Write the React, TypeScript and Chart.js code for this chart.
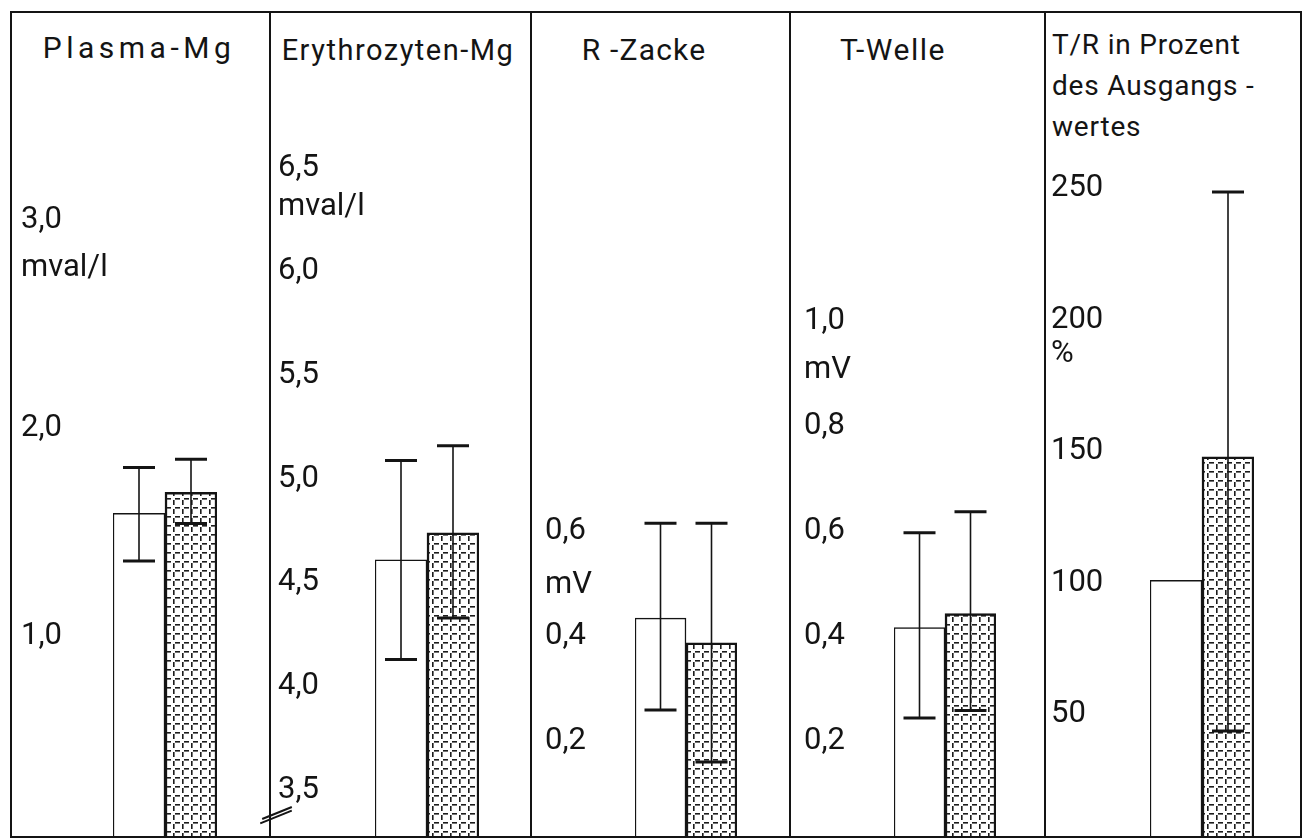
import React, { useEffect, useRef } from 'react';
import { Chart, registerables } from 'chart.js';

Chart.register(...registerables);

// ---------- data ----------
const panelTitles: string[][] = [
  ['Plasma-Mg'],
  ['Erythrozyten-Mg'],
  ['R -Zacke'],
  ['T-Welle'],
  ['T/R in Prozent', 'des Ausgangs -', 'wertes'],
];
const seriesNames = ['Ausgangswert', 'Nach Behandlung'];

const whiteValues = [1.59, 4.61, 0.434, 0.416, 101];
const whiteLow: (number | null)[] = [1.36, 4.13, 0.259, 0.244, null];
const whiteHigh: (number | null)[] = [1.81, 5.09, 0.615, 0.597, null];

const dottedValues = [1.69, 4.74, 0.387, 0.443, 148];
const dottedLow: (number | null)[] = [1.54, 4.33, 0.16, 0.258, 43.7];
const dottedHigh: (number | null)[] = [1.85, 5.16, 0.615, 0.637, 248.7];

const tickValues: number[][] = [
  [1, 2, 3],
  [3.5, 4, 4.5, 5, 5.5, 6, 6.5],
  [0.2, 0.4, 0.6],
  [0.2, 0.4, 0.6, 0.8, 1.0],
  [50, 100, 150, 200, 250],
];
const tickLabels: string[][] = [
  ['1,0', '2,0', '3,0'],
  ['3,5', '4,0', '4,5', '5,0', '5,5', '6,0', '6,5'],
  ['0,2', '0,4', '0,6'],
  ['0,2', '0,4', '0,6', '0,8', '1,0'],
  ['50', '100', '150', '200', '250'],
];
const unitLabels = ['mval/l', 'mval/l', 'mV', 'mV', '%'];
const unitValues = [2.77, 6.31, 0.497, 0.907, 187];

const axisMin = [0.038, 3.278, 0.019, 0.019, 3.8];
const axisMax = [4.0, 7.253, 1.589, 1.589, 317.1];

// ---------- layout ----------
const FRAME_TOP = 12;
const FRAME_BOTTOM = 836;
const FRAME_RIGHT = 1300;
const panelLeft = [10, 269, 530, 789, 1044];
const barLeft = [113, 375, 635, 894, 1150];
const barWidth = [52, 52, 51, 51, 52];
const labelInset = [10, 8, 14, 14, 6];
const titleCenter = [139, 398, 644, 893, 0];
const titleSpacing = [4.5, 1.5, 1.2, 1.5, 0.8];
const titleFont = [30, 29, 30, 30, 28];
const titleTop = [33, 35, 35, 35, 24];
const INK = '#141414';

function makePattern(): CanvasPattern | string {
  const c = document.createElement('canvas');
  c.width = 9;
  c.height = 9;
  const g = c.getContext('2d');
  if (!g) return '#888';
  g.fillStyle = '#ffffff';
  g.fillRect(0, 0, 9, 9);
  g.fillStyle = '#1c1c1c';
  g.fillRect(2, 0, 5, 1.6);
  g.fillRect(0, 2, 1.6, 5);
  return g.createPattern(c, 'repeat') || '#888';
}

const errorBarPlugin = {
  id: 'errorBars',
  afterDatasetsDraw(chart: any) {
    const { ctx } = chart;
    const yScale = chart.scales.y;
    chart.data.datasets.forEach((ds: any, d: number) => {
      const meta = chart.getDatasetMeta(d);
      meta.data.forEach((el: any, j: number) => {
        const lo = ds.errLow[j];
        const hi = ds.errHigh[j];
        if (lo == null || hi == null) return;
        const yTop = yScale.getPixelForValue(hi);
        const yBot = yScale.getPixelForValue(lo);
        const x = el.x;
        ctx.save();
        ctx.strokeStyle = INK;
        ctx.lineWidth = 1.6;
        ctx.beginPath();
        ctx.moveTo(x, yTop);
        ctx.lineTo(x, yBot);
        ctx.stroke();
        ctx.lineWidth = 3;
        ctx.beginPath();
        ctx.moveTo(x - 16, yTop);
        ctx.lineTo(x + 16, yTop);
        ctx.moveTo(x - 16, yBot);
        ctx.lineTo(x + 16, yBot);
        ctx.stroke();
        ctx.restore();
      });
    });
  },
};

function Panel({ i }: { i: number }) {
  const ref = useRef<HTMLCanvasElement | null>(null);
  const left = panelLeft[i] + 1;
  const right = i < panelLeft.length - 1 ? panelLeft[i + 1] : FRAME_RIGHT;
  const width = right - left;
  const height = FRAME_BOTTOM - FRAME_TOP;
  const axisWidth = barLeft[i] - left - labelInset[i];
  const rightPad = width - (barLeft[i] - left) - 2 * barWidth[i];

  useEffect(() => {
    if (!ref.current) return;
    const pattern = makePattern();
    const ticksAll = [...tickValues[i], unitValues[i]];
    const labelsAll = [...tickLabels[i], unitLabels[i]];
    const chart = new Chart(ref.current, {
      type: 'bar',
      data: {
        labels: [panelTitles[i].join(' ')],
        datasets: [
          {
            label: seriesNames[0],
            data: [whiteValues[i]],
            backgroundColor: '#ffffff',
            borderColor: INK,
            borderWidth: { top: 1.5, left: 1.5, right: 1.5, bottom: 0 },
            borderSkipped: 'start',
            errLow: [whiteLow[i]],
            errHigh: [whiteHigh[i]],
          } as any,
          {
            label: seriesNames[1],
            data: [dottedValues[i]],
            backgroundColor: pattern as any,
            borderColor: INK,
            borderWidth: { top: 2.5, left: 2.5, right: 2.5, bottom: 0 },
            borderSkipped: 'start',
            errLow: [dottedLow[i]],
            errHigh: [dottedHigh[i]],
          } as any,
        ],
      },
      options: {
        animation: false,
        responsive: false,
        maintainAspectRatio: false,
        layout: { padding: { left: labelInset[i], right: rightPad, top: 0, bottom: 0 } },
        datasets: { bar: { barPercentage: 1, categoryPercentage: 1 } },
        plugins: {
          legend: { display: false },
          tooltip: { enabled: false },
          title: { display: false },
        },
        scales: {
          x: { display: false },
          y: {
            type: 'linear',
            min: axisMin[i],
            max: axisMax[i],
            grid: { display: false, drawTicks: false },
            border: { display: false },
            afterBuildTicks: (scale: any) => {
              scale.ticks = ticksAll.map((v) => ({ value: v }));
            },
            afterFit: (scale: any) => {
              scale.width = axisWidth;
              scale.paddingTop = 0;
              scale.paddingBottom = 0;
            },
            ticks: {
              autoSkip: false,
              padding: 0,
              crossAlign: 'far',
              color: INK,
              font: { family: 'Roboto', size: 31 },
              callback: (_v: any, idx: number) => labelsAll[idx],
            },
          },
        },
      },
      plugins: [errorBarPlugin],
    });
    return () => chart.destroy();
  }, [i]);

  return (
    <canvas
      ref={ref}
      width={width}
      height={height}
      style={{ position: 'absolute', left, top: FRAME_TOP, width, height }}
    />
  );
}

export default function App() {
  const lineStyle = (l: number, t: number, w: number, h: number): React.CSSProperties => ({
    position: 'absolute',
    left: l,
    top: t,
    width: w,
    height: h,
    background: INK,
  });
  return (
    <div
      style={{
        position: 'absolute',
        left: 0,
        top: 0,
        width: 1303,
        height: 839,
        background: '#ffffff',
        overflow: 'hidden',
        fontFamily: 'Roboto, sans-serif',
        color: INK,
      }}
    >
      {/* frame */}
      <div style={lineStyle(panelLeft[0], FRAME_TOP - 1, FRAME_RIGHT - panelLeft[0] + 1.5, 1.5)} />
      <div style={lineStyle(panelLeft[0], FRAME_BOTTOM, FRAME_RIGHT - panelLeft[0] + 1.5, 1.5)} />
      {panelLeft.map((x, k) => (
        <div key={'d' + k} style={lineStyle(x, FRAME_TOP - 1, 1.5, FRAME_BOTTOM - FRAME_TOP + 2)} />
      ))}
      <div style={lineStyle(FRAME_RIGHT, FRAME_TOP - 1, 1.5, FRAME_BOTTOM - FRAME_TOP + 2)} />

      {panelTitles.map((lines, k) => {
        const l = panelLeft[k] + 1;
        const multi = lines.length > 1;
        return (
          <div
            key={'t' + k}
            style={{
              position: 'absolute',
              left: multi ? l + 7 : titleCenter[k] - 150,
              top: titleTop[k],
              width: multi ? 250 : 300,
              textAlign: multi ? 'left' : 'center',
              fontSize: titleFont[k],
              lineHeight: multi ? '41px' : '30px',
              letterSpacing: titleSpacing[k],
              whiteSpace: 'nowrap',
            }}
          >
            {lines.map((s, n) => (
              <div key={n}>{s}</div>
            ))}
          </div>
        );
      })}

      {panelLeft.map((_, k) => (
        <Panel key={'p' + k} i={k} />
      ))}

      {/* axis break marks */}
      <div
        style={{
          position: 'absolute',
          left: 259,
          top: 816,
          width: 34,
          height: 2,
          background: INK,
          transform: 'rotate(-22deg)',
        }}
      />
      <div
        style={{
          position: 'absolute',
          left: 261,
          top: 812,
          width: 32,
          height: 2,
          background: INK,
          transform: 'rotate(-22deg)',
        }}
      />
    </div>
  );
}
